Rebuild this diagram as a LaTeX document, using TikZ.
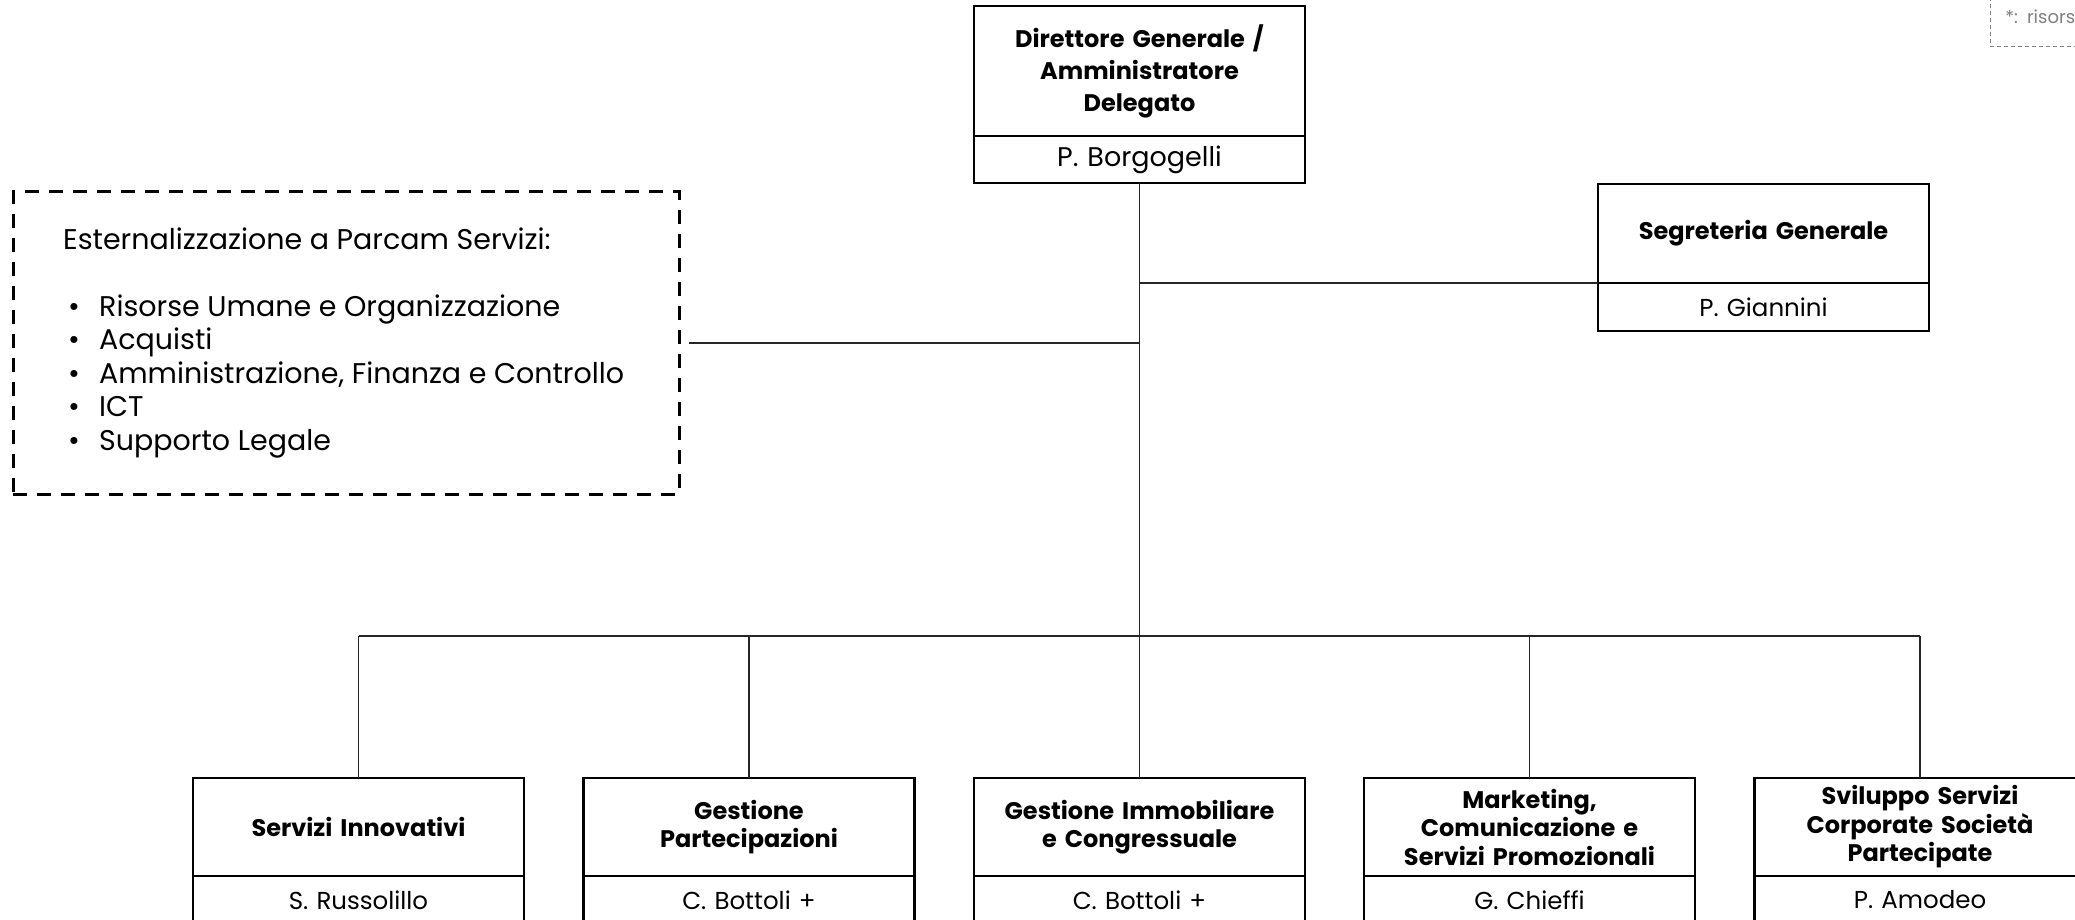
\documentclass[tikz,border=0pt]{standalone}
\usepackage{fontspec}
\setmainfont{Poppins}
\usetikzlibrary{positioning}

\tikzset{
    unit/.style={draw, line width=2.4pt, outer sep=0pt, inner sep=3pt, minimum width=331pt,
        text width=322pt, align=center, font=\fontsize{24}{28.5}\selectfont\bfseries},
    who/.style={draw, line width=2.4pt, outer sep=0pt, inner sep=3pt, minimum width=331pt,
        minimum height=48pt, text width=322pt, align=center, font=\fontsize{24.5}{28}\selectfont},
    link/.style={line width=1.2pt, black!85},
    outframe/.style={draw, line width=3pt, dash pattern=on 14pt off 10pt, minimum width=666pt, minimum height=302pt},
    legendbox/.style={draw, gray, line width=0.8pt, dash pattern=on 4pt off 3pt, minimum width=200pt,
        minimum height=60pt, text width=180pt, align=left, inner sep=15pt, font=\fontsize{18}{20}\selectfont}
}
\newcommand{\bul}{\hspace*{5pt}\makebox[31pt][l]{•}}

\begin{document}
\begin{tikzpicture}[x=1pt, y=-1pt]
    \clip (0,0) rectangle (2075,920);
    \fill[white] (0,0) rectangle (2075,920);

    % Vertice
    \node[unit, minimum height=130pt, font=\fontsize{24}{32}\selectfont\bfseries] (dg) at (1139.5,71) {Direttore Generale /\\Amministratore\\Delegato};
    \node[who, minimum height=47pt, below=0pt of dg, font=\fontsize{27}{30}\selectfont] (dgname) {P. Borgogelli};

    % Staff
    \node[unit, minimum height=99pt] (seg) at (1763.5,233.5) {Segreteria Generale};
    \node[who, below=0pt of seg] (segname) {P. Giannini};

    % Esternalizzazione
    \node[outframe] (outbox) at (346,343) {};
    \node[anchor=west, align=left, inner sep=0pt, font=\fontsize{28.5}{33.5}\selectfont] (outlist) at (63,343)
        {Esternalizzazione a Parcam Servizi:\\[33.5pt]
         \bul Risorse Umane e Organizzazione\\
         \bul Acquisti\\
         \bul Amministrazione, Finanza e Controllo\\
         \bul ICT\\
         \bul Supporto Legale};

    % Legenda
    \node[legendbox, anchor=south west] (legend) at (1990,47) {*: risorse};

    % Funzioni
    \node[unit, minimum height=98pt] (si) at (358.5,827) {Servizi Innovativi};
    \node[who, below=0pt of si] (siname) {S. Russolillo};
    \node[unit, minimum height=98pt] (gp) at (749,827) {Gestione\\Partecipazioni};
    \node[who, below=0pt of gp] (gpname) {C. Bottoli +};
    \node[unit, minimum height=98pt] (gi) at (1139.5,827) {Gestione Immobiliare\\e Congressuale};
    \node[who, below=0pt of gi] (giname) {C. Bottoli +};
    \node[unit, minimum height=98pt] (mk) at (1529.5,827) {Marketing,\\Comunicazione e\\Servizi Promozionali};
    \node[who, below=0pt of mk] (mkname) {G. Chieffi};
    \node[unit, minimum height=98pt] (sv) at (1920,827) {Sviluppo Servizi\\Corporate Società\\Partecipate};
    \node[who, below=0pt of sv] (svname) {P. Amodeo};

    % Collegamenti
    \coordinate (bus) at (1139.5,636);
    \draw[link] (dgname.south) -- (dgname.south |- bus);
    \draw[link] (dgname.south |- seg.south west) -- (seg.south west);
    \draw[link, shorten <=8pt] (outbox.east) -- (outbox.east -| dgname.south);
    \draw[link] (si.north |- bus) -- (sv.north |- bus);
    \foreach \u in {si,gp,gi,mk,sv}
        \draw[link] (\u.north |- bus) -- (\u.north);
\end{tikzpicture}
\end{document}
